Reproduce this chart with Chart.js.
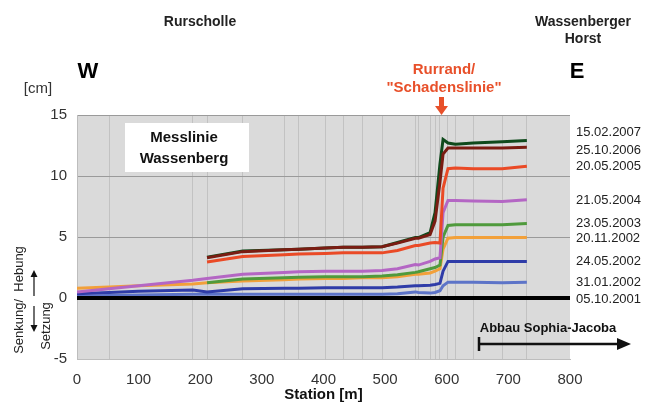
<!DOCTYPE html>
<html>
<head>
<meta charset="utf-8">
<script src="https://cdn.jsdelivr.net/npm/chart.js@4"></script>
<style>
  html, body { margin: 0; padding: 0; background: #fff; }
  #wrap { width: 651px; height: 405px; }
</style>
</head>
<body>
<div id="wrap"><canvas id="messlinie"></canvas></div>
<script>
// Stationen [m] der Messpunkte
const stations = [0, 52, 100, 188, 211, 269, 336, 360, 403, 432, 463, 495, 520, 549, 554, 573, 581, 589, 594, 602, 614, 643, 690, 730];
const gridStations = [52, 188, 211, 269, 336, 360, 403, 432, 463, 495, 549, 554, 573, 581, 589, 602, 614, 643, 690, 730];
const zeroStations = [0, 800];

const dates = ['15.02.2007', '25.10.2006', '20.05.2005', '21.05.2004', '23.05.2003', '20.11.2002', '24.05.2002', '31.01.2002', '05.10.2001'];
const labelValues = [13.6, 12.1, 10.8, 8.0, 6.1, 4.9, 3.0, 1.3, -0.1];

// Hebung [cm]
const m2007 = [null, null, null, null, 3.35, 3.85, 3.95, 4.0, 4.1, 4.15, 4.15, 4.2, 4.55, 4.95, 4.95, 5.35, 7.0, 11.0, 13.0, 12.7, 12.6, 12.7, 12.8, 12.9];
const m2006 = [null, null, null, null, 3.3, 3.8, 3.95, 4.0, 4.1, 4.15, 4.15, 4.2, 4.5, 4.9, 4.9, 5.2, 6.3, 9.5, 11.8, 12.3, 12.3, 12.3, 12.3, 12.35];
const m2005 = [null, null, null, null, 2.95, 3.4, 3.55, 3.6, 3.65, 3.7, 3.7, 3.7, 3.9, 4.3, 4.3, 4.5, 4.55, 4.5, 9.0, 10.6, 10.65, 10.6, 10.6, 10.8];
const m2004 = [0.5, 0.75, 1.0, 1.45, 1.6, 1.95, 2.1, 2.15, 2.2, 2.2, 2.2, 2.25, 2.4, 2.75, 2.7, 3.0, 3.2, 3.3, 7.0, 8.0, 8.0, 7.95, 7.9, 8.05];
const m2003 = [null, null, null, null, 1.25, 1.55, 1.65, 1.7, 1.75, 1.75, 1.75, 1.8, 1.9, 2.1, 2.15, 2.4, 2.5, 2.7, 5.0, 5.95, 6.0, 6.0, 6.0, 6.1];
const m2002b = [0.8, 0.9, 1.0, 1.15, 1.25, 1.4, 1.5, 1.55, 1.6, 1.6, 1.65, 1.65, 1.75, 1.95, 1.95, 2.05, 2.2, 2.4, 4.0, 4.9, 4.95, 4.95, 4.95, 4.95];
const m2002a = [0.35, 0.45, 0.55, 0.65, 0.5, 0.75, 0.8, 0.8, 0.85, 0.85, 0.85, 0.85, 0.9, 1.0, 1.0, 1.05, 1.1, 1.2, 2.2, 3.0, 3.0, 3.0, 3.0, 3.0];
const m2002 = [0.15, 0.2, 0.25, 0.3, 0.3, 0.3, 0.3, 0.3, 0.3, 0.3, 0.3, 0.3, 0.35, 0.5, 0.45, 0.4, 0.45, 0.6, 1.0, 1.3, 1.3, 1.3, 1.25, 1.3];
const m2001 = [0, 0];

const colors = ['#0f4a1c', '#7a1c12', '#ea4a26', '#b466c4', '#4f9a3c', '#f2a03a', '#2f3ca8', '#5d74c8', '#000000'];
// Zeichenreihenfolge (kleiner = weiter oben)
const drawOrder = [9, 1, 2, 3, 4, 5, 6, 7, 0];

const pts = (xs, ys) => xs.map((x, i) => ({ x: x, y: ys[i] }));
const series = [m2007, m2006, m2005, m2004, m2003, m2002b, m2002a, m2002];

const datasets = series.map((s, i) => ({
  label: dates[i],
  data: pts(stations, s),
  borderColor: colors[i],
  borderWidth: 3,
  pointRadius: 0,
  spanGaps: false,
  order: drawOrder[i]
}));
datasets.push({
  label: dates[8],
  data: pts(zeroStations, m2001),
  borderColor: colors[8],
  borderWidth: 4,
  pointRadius: 0,
  order: drawOrder[8],
  clip: 8
});

const FONT = '"Liberation Sans", Arial, sans-serif';

const decor = {
  id: 'decor',
  beforeDraw(chart) {
    const { ctx, chartArea: a } = chart;
    ctx.save();
    ctx.fillStyle = '#dadada';
    ctx.fillRect(a.left, a.top, a.right - a.left, a.bottom - a.top);
    ctx.restore();
  },
  afterDraw(chart) {
    const { ctx, chartArea: a, scales } = chart;
    const y = scales.y;
    ctx.save();
    ctx.textBaseline = 'middle';
    ctx.textAlign = 'center';
    ctx.fillStyle = '#222';

    ctx.font = 'bold 14px ' + FONT;
    ctx.fillText('Rurscholle', 200, 22);
    ctx.fillText('Wassenberger', 583, 22);
    ctx.fillText('Horst', 583, 39);

    ctx.fillStyle = '#000';
    ctx.font = 'bold 22px ' + FONT;
    ctx.fillText('W', 88, 72);
    ctx.fillText('E', 577, 72);

    ctx.font = '15px ' + FONT;
    ctx.fillStyle = '#333';
    ctx.fillText('[cm]', 38, 89);

    // Rurrand
    ctx.fillStyle = '#e8502a';
    ctx.font = 'bold 15px ' + FONT;
    ctx.fillText('Rurrand/', 444, 70);
    ctx.fillText('"Schadenslinie"', 444, 88);
    ctx.fillRect(439, 97, 5, 10);
    ctx.beginPath();
    ctx.moveTo(435, 106);
    ctx.lineTo(448, 106);
    ctx.lineTo(441.5, 115);
    ctx.closePath();
    ctx.fill();

    // Messlinie box
    ctx.fillStyle = '#fff';
    ctx.fillRect(125, 123, 124, 49);
    ctx.fillStyle = '#111';
    ctx.font = 'bold 15px ' + FONT;
    ctx.fillText('Messlinie', 184, 138);
    ctx.fillText('Wassenberg', 184, 159);

    // date labels
    ctx.textAlign = 'left';
    ctx.font = '13px ' + FONT;
    ctx.fillStyle = '#222';
    dates.forEach((d, i) => {
      ctx.fillText(d, 576, y.getPixelForValue(labelValues[i]));
    });

    // Senkung / Hebung
    ctx.save();
    ctx.translate(19, 300);
    ctx.rotate(-Math.PI / 2);
    ctx.textAlign = 'center';
    ctx.font = '13px ' + FONT;
    ctx.fillStyle = '#222';
    ctx.fillText('Senkung/  Hebung', 0, 0);
    ctx.restore();
    ctx.save();
    ctx.translate(46, 326);
    ctx.rotate(-Math.PI / 2);
    ctx.textAlign = 'center';
    ctx.font = '13px ' + FONT;
    ctx.fillStyle = '#222';
    ctx.fillText('Setzung', 0, 0);
    ctx.restore();

    ctx.strokeStyle = '#111';
    ctx.fillStyle = '#111';
    ctx.lineWidth = 1.2;
    ctx.beginPath();
    ctx.moveTo(34, 296); ctx.lineTo(34, 274);
    ctx.moveTo(34, 306); ctx.lineTo(34, 328);
    ctx.stroke();
    ctx.beginPath();
    ctx.moveTo(30.5, 277); ctx.lineTo(37.5, 277); ctx.lineTo(34, 270); ctx.closePath();
    ctx.moveTo(30.5, 325); ctx.lineTo(37.5, 325); ctx.lineTo(34, 332); ctx.closePath();
    ctx.fill();

    // Abbau Sophia-Jacoba
    ctx.textAlign = 'center';
    ctx.font = 'bold 13px ' + FONT;
    ctx.fillText('Abbau Sophia-Jacoba', 548, 328);
    ctx.lineWidth = 2.5;
    ctx.beginPath();
    ctx.moveTo(479, 337); ctx.lineTo(479, 351);
    ctx.moveTo(479, 344); ctx.lineTo(620, 344);
    ctx.stroke();
    ctx.beginPath();
    ctx.moveTo(617, 338); ctx.lineTo(631, 344); ctx.lineTo(617, 350); ctx.closePath();
    ctx.fill();

    ctx.font = 'bold 15px ' + FONT;
    ctx.fillText('Station [m]', (a.left + a.right) / 2, 395);
    ctx.restore();
  }
};

new Chart(document.getElementById('messlinie'), {
  type: 'line',
  data: { datasets: datasets },
  options: {
    responsive: true,
    maintainAspectRatio: false,
    animation: false,
    layout: { padding: { top: 115, right: 81, left: 0, bottom: 0 } },
    plugins: { legend: { display: false }, tooltip: { enabled: false } },
    elements: { line: { tension: 0, borderCapStyle: 'butt' } },
    scales: {
      x: {
        type: 'linear',
        min: 0,
        max: 800,
        afterFit: (s) => { s.height = 46; },
        ticks: { stepSize: 100, color: '#333', font: { size: 15, family: FONT }, padding: 4 },
        grid: { display: false },
        border: { color: '#bdbdbd' }
      },
      xg: {
        type: 'linear',
        position: 'top',
        min: 0,
        max: 800,
        afterFit: (s) => { s.height = 0; },
        afterBuildTicks: (s) => { s.ticks = gridStations.map(v => ({ value: v })); },
        ticks: { display: false },
        grid: { color: '#c2c2c2', lineWidth: 1, drawTicks: false },
        border: { display: false }
      },
      y: {
        min: -5,
        max: 15,
        afterFit: (s) => { s.width = 77; },
        ticks: { stepSize: 5, color: '#333', font: { size: 15, family: FONT }, padding: 10 },
        grid: { color: '#9a9a9a', lineWidth: 1, drawTicks: false },
        border: { color: '#bdbdbd' }
      }
    }
  },
  plugins: [decor]
});
</script>
</body>
</html>
